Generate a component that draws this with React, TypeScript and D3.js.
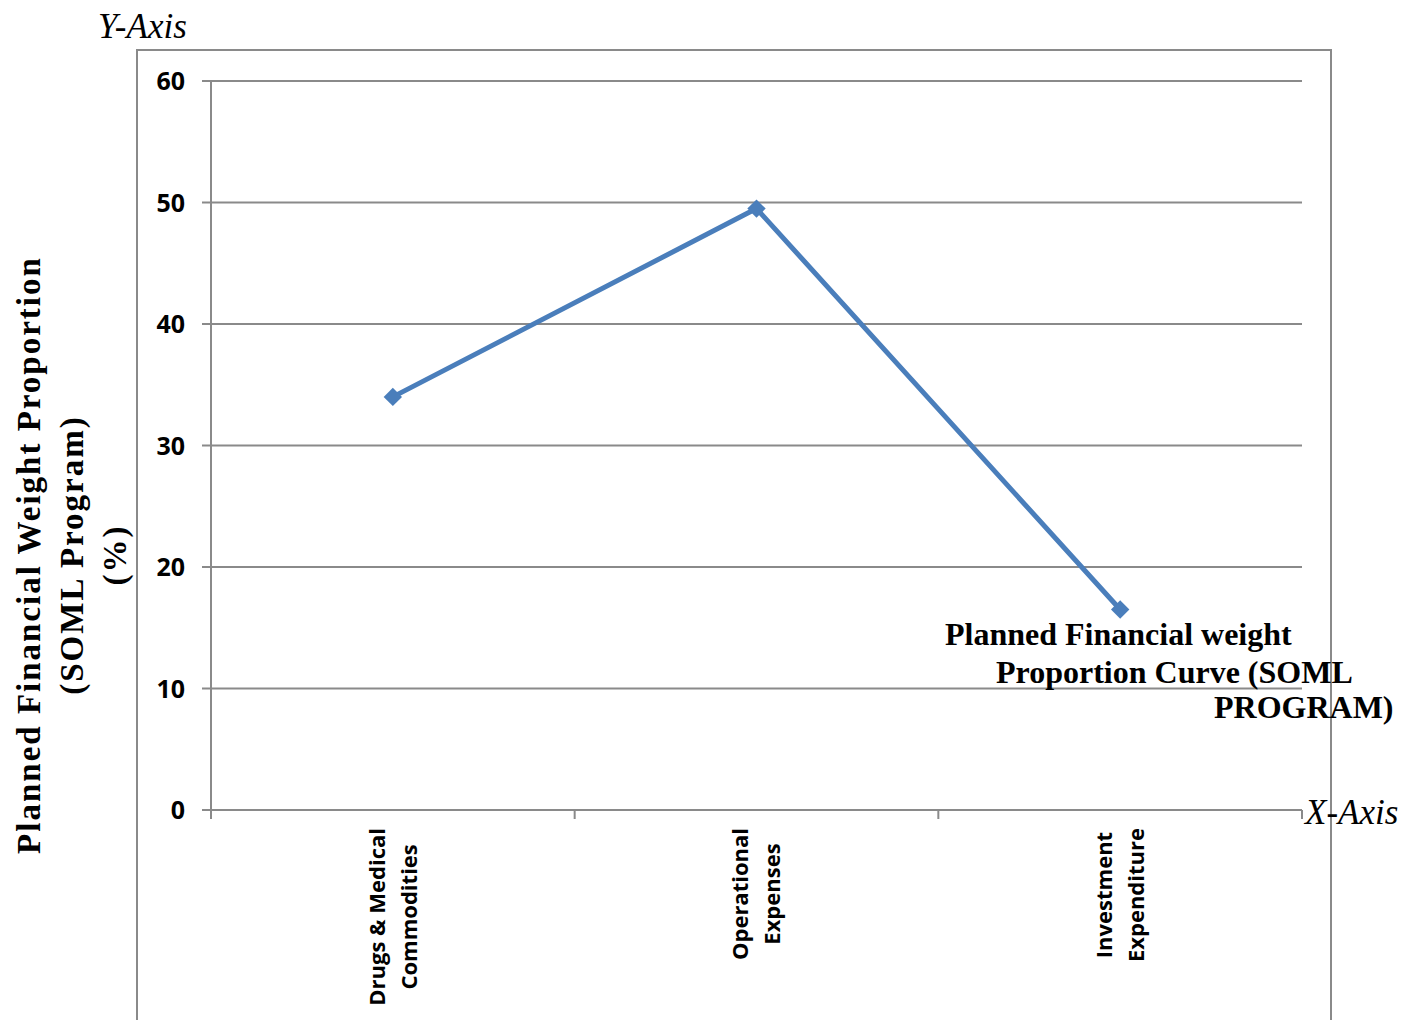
import React from "react";
import * as d3 from "d3";

const categories: string[][] = [
  ["Drugs & Medical", "Commodities"],
  ["Operational", "Expenses"],
  ["Investment", "Expenditure"],
];
const values: number[] = [34, 49.5, 16.5];
const yTicks: number[] = [0, 10, 20, 30, 40, 50, 60];
const yTitleLines: string[] = ["Planned Financial Weight Proportion", "(SOML Program)", "(%)"];
const seriesLabelLines: string[] = ["Planned Financial weight", "Proportion Curve (SOML", "PROGRAM)"];

const W = 1404;
const H = 1020;
const plot = { left: 211, right: 1302, top: 81, bottom: 810 };
const grid = "#8a8a8a";
const blue = "#4a7ebb";
const tickFont = "'Open Sans', 'Liberation Sans', sans-serif";
const serif = "'Liberation Serif', 'DejaVu Serif', serif";

function measure(text: string, font: string): number {
  if (typeof document === "undefined") return text.length * 10;
  const c = document.createElement("canvas");
  const ctx = c.getContext("2d");
  if (!ctx) return text.length * 10;
  ctx.font = font;
  return ctx.measureText(text).width;
}

export default function App() {
  const x = d3
    .scaleBand<number>()
    .domain(d3.range(categories.length))
    .range([plot.left, plot.right]);
  const y = d3.scaleLinear().domain([0, 60]).range([plot.bottom, plot.top]);
  const line = d3
    .line<number>()
    .x((_, i) => (x(i) as number) + x.bandwidth() / 2)
    .y((d) => y(d));
  const boundaries = d3.range(categories.length + 1).map((i) =>
    i < categories.length ? (x(i) as number) : plot.right
  );
  const xFs = 22;
  const xLabelFont = `bold ${xFs}px ${tickFont}`;

  return (
    <svg width={W} height={H} style={{ position: "absolute", left: 0, top: 0 }}>
      <rect x={0} y={0} width={W} height={H} fill="#fff" />
      {/* chart border */}
      <path d={`M137,${H + 2} V50 H1331 V${H + 2}`} fill="none" stroke={grid} strokeWidth={2} />
      {/* gridlines */}
      {yTicks.map((t) => (
        <line key={t} x1={plot.left - 9} x2={plot.right} y1={y(t)} y2={y(t)} stroke={grid} strokeWidth={2} />
      ))}
      {/* y axis line */}
      <line x1={plot.left} x2={plot.left} y1={plot.top} y2={plot.bottom + 9} stroke={grid} strokeWidth={2} />
      {/* x ticks */}
      {boundaries.map((bx, i) => (
        <line key={i} x1={bx} x2={bx} y1={plot.bottom} y2={plot.bottom + 9} stroke={grid} strokeWidth={2} />
      ))}
      {/* y tick labels */}
      {yTicks.map((t) => (
        <text
          key={t}
          x={185}
          y={y(t)}
          dy="0.36em"
          textAnchor="end"
          fontFamily={tickFont}
          fontWeight="bold"
          fontSize={25}
          fill="#000"
        >
          {t}
        </text>
      ))}
      {/* x category labels */}
      {categories.map((lines, i) => {
        const cx = (x(i) as number) + x.bandwidth() / 2;
        const longest = Math.max(...lines.map((l) => measure(l, xLabelFont)));
        const lh = 32;
        const off = -((lines.length - 1) * lh) / 2;
        return (
          <g key={i} transform={`translate(${cx},828) rotate(-90)`}>
            {lines.map((l, j) => (
              <text
                key={j}
                x={-longest / 2}
                y={off + j * lh}
                dy="0.36em"
                textAnchor="middle"
                fontFamily={tickFont}
                fontWeight="bold"
                fontSize={xFs}
                fill="#000"
              >
                {l}
              </text>
            ))}
          </g>
        );
      })}
      {/* series line */}
      <path d={line(values) || ""} fill="none" stroke={blue} strokeWidth={5} strokeLinejoin="round" />
      {values.map((v, i) => {
        const cx = (x(i) as number) + x.bandwidth() / 2;
        const cy = y(v);
        return (
          <rect
            key={i}
            x={cx - 6.5}
            y={cy - 6.5}
            width={13}
            height={13}
            fill={blue}
            transform={`rotate(45,${cx},${cy})`}
          />
        );
      })}
      {/* series annotation */}
      {seriesLabelLines.map((l, i) => (
        <text
          key={i}
          x={[945, 996, 1214][i]}
          y={[645, 683, 718][i]}
          fontFamily={serif}
          fontWeight="bold"
          fontSize={32}
          fill="#000"
        >
          {l}
        </text>
      ))}
      {/* y axis title */}
      <g transform="translate(0,555) rotate(-90)">
        {yTitleLines.map((l, i) => (
          <text
            key={i}
            x={0}
            y={28 + i * 43}
            dy="0.36em"
            textAnchor="middle"
            fontFamily={serif}
            fontWeight="bold"
            fontSize={33}
            letterSpacing={2}
            fill="#000"
          >
            {l}
          </text>
        ))}
      </g>
      {/* axis names */}
      <text x={98} y={38} fontFamily={serif} fontStyle="italic" fontSize={35} fill="#000">
        Y-Axis
      </text>
      <text x={1305} y={824} fontFamily={serif} fontStyle="italic" fontSize={35} fill="#000">
        X-Axis
      </text>
    </svg>
  );
}
